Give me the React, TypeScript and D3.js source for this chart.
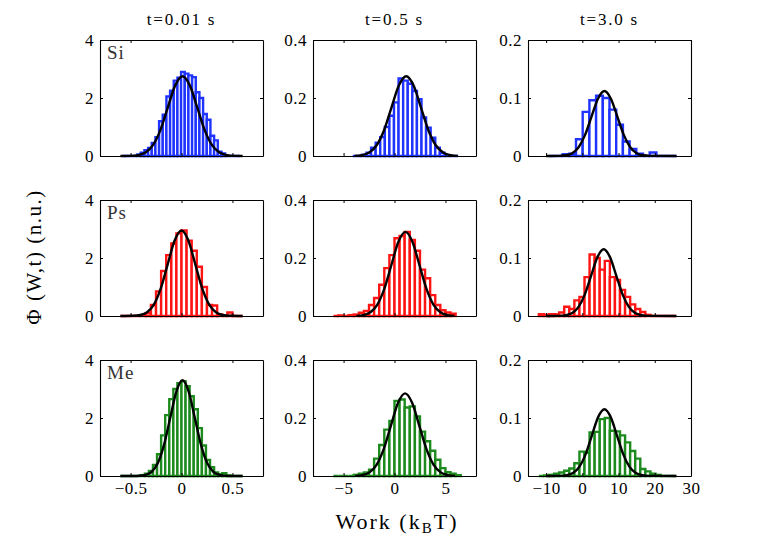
import { useEffect, useRef } from "react";
import * as d3 from "d3";

// Column titles (time), row labels (material)
const columnTitles = ["t=0.01 s", "t=0.5 s", "t=3.0 s"];
const materials = ["Si", "Ps", "Me"];

// Axis settings per column
const xDomains: [number, number][] = [[-0.8, 0.8], [-8, 8], [-15, 30]];
const yDomains: [number, number][] = [[0, 4], [0, 0.4], [0, 0.2]];
const xTicks = [[-0.5, 0, 0.5], [-5, 0, 5], [-10, 0, 10, 20, 30]];
const yTicks = [[0, 2, 4], [0, 0.2, 0.4], [0, 0.1, 0.2]];

// Histogram bins: [first edge, bin width] per column
const siBins = [[-0.58, 0.036], [-4.1, 0.45], [-9.15, 1.85]];
const psBins = [[-0.6, 0.05], [-6, 0.5], [-12, 1.4]];
const meBins = [[-0.6, 0.04], [-6, 0.5], [-12, 1.4]];

// Histogram heights
const siHeights = [
    [0, 0, 0, 0, 0.05, 0.11, 0.2, 0.28, 0.45, 0.65, 1.2, 1.42, 2.05, 2.25, 2.6, 2.7, 2.9, 2.84, 2.78, 2.72, 2.2, 2.0, 1.45, 1.25, 0.7, 0.54, 0.15, 0.09, 0, 0, 0, 0],
    [0, 0, 0.004, 0.011, 0.029, 0.046, 0.065, 0.1, 0.139, 0.185, 0.267, 0.26, 0.249, 0.224, 0.196, 0.133, 0.098, 0.063, 0.029, 0.011, 0, 0, 0],
    [0, 0, 0.003, 0.004, 0.029, 0.076, 0.096, 0.104, 0.1, 0.08, 0.054, 0.025, 0.012, 0.004, 0, 0.006, 0, 0, 0],
];
const psHeights = [
    [0, 0, 0, 0, 0.02, 0.1, 0.38, 0.85, 1.55, 2.1, 2.5, 2.85, 2.95, 2.6, 2.25, 1.7, 1.0, 0.38, 0.36, 0.05, 0, 0.12, 0, 0],
    [0, 0.002, 0, 0.003, 0.005, 0.011, 0.017, 0.038, 0.062, 0.108, 0.165, 0.21, 0.268, 0.276, 0.29, 0.262, 0.225, 0.16, 0.13, 0.072, 0.038, 0.02, 0.012, 0.008],
    [0.003, 0.002, 0.003, 0.003, 0.006, 0.016, 0.012, 0.027, 0.033, 0.067, 0.106, 0.1, 0.08, 0.095, 0.067, 0.062, 0.045, 0.033, 0.02, 0.012, 0.007, 0.002, 0, 0, 0, 0, 0],
];
const meHeights = [
    [0, 0, 0, 0, 0, 0.03, 0.08, 0.17, 0.38, 0.75, 1.4, 2.1, 2.65, 3.0, 3.2, 3.27, 3.1, 2.75, 2.3, 1.65, 1.05, 0.55, 0.3, 0.12, 0.06, 0.1, 0.02, 0, 0, 0],
    [0, 0, 0, 0, 0.004, 0.008, 0.012, 0.022, 0.06, 0.107, 0.16, 0.19, 0.259, 0.264, 0.236, 0.24, 0.205, 0.153, 0.12, 0.087, 0.056, 0.027, 0.013, 0.008, 0.003],
    [0, 0.001, 0.002, 0.004, 0.006, 0.009, 0.013, 0.022, 0.042, 0.04, 0.075, 0.076, 0.098, 0.1, 0.078, 0.077, 0.07, 0.058, 0.043, 0.03, 0.012, 0.008, 0.004, 0.002, 0, 0, 0],
];

// Fitted curves, [work, density]
const siFit = [
    [[-0.6, 0], [-0.4975, 0.006], [-0.425, 0.031], [-0.3525, 0.121], [-0.28, 0.372], [-0.2075, 0.893], [-0.135, 1.668], [-0.0625, 2.427], [0.01, 2.75], [0.0825, 2.427], [0.155, 1.668], [0.2275, 0.893], [0.3, 0.372], [0.3725, 0.121], [0.445, 0.031], [0.5175, 0.006], [0.6, 0]],
    [[-3.925, 0.0006], [-3.2, 0.003], [-2.475, 0.012], [-1.75, 0.037], [-1.025, 0.089], [-0.3, 0.167], [0.425, 0.243], [1.15, 0.275], [1.875, 0.243], [2.6, 0.167], [3.325, 0.089], [4.05, 0.037], [4.775, 0.012], [5.5, 0.003], [6.225, 0.0006]],
    [[-10, 0], [-6.36, 0.0003], [-4.58, 0.0012], [-2.8, 0.0049], [-1.02, 0.0152], [0.76, 0.0364], [2.54, 0.0679], [4.32, 0.0988], [6.1, 0.112], [7.88, 0.0988], [9.66, 0.0679], [11.44, 0.0364], [13.22, 0.0152], [15, 0.0049], [16.78, 0.0012], [18.56, 0.0003], [26, 0]],
];
const psFit = [
    [[-0.6, 0], [-0.4725, 0.0065], [-0.405, 0.033], [-0.3375, 0.13], [-0.27, 0.399], [-0.2025, 0.958], [-0.135, 1.789], [-0.0675, 2.603], [0, 2.95], [0.0675, 2.603], [0.135, 1.789], [0.2025, 0.958], [0.27, 0.399], [0.3375, 0.13], [0.405, 0.033], [0.4725, 0.0065], [0.6, 0]],
    [[-3.74, 0.0006], [-3.055, 0.0032], [-2.368, 0.0127], [-1.68, 0.0392], [-0.993, 0.0942], [-0.305, 0.1759], [0.383, 0.2559], [1.07, 0.29], [1.758, 0.2559], [2.445, 0.1759], [3.133, 0.0942], [3.82, 0.0392], [4.508, 0.0127], [5.195, 0.0032], [5.883, 0.0006]],
    [[-10, 0], [-6.245, 0.0003], [-4.51, 0.0013], [-2.775, 0.005], [-1.04, 0.0156], [0.695, 0.0373], [2.43, 0.0697], [4.165, 0.1015], [5.9, 0.115], [7.635, 0.1015], [9.37, 0.0697], [11.105, 0.0373], [12.84, 0.0156], [14.575, 0.005], [16.31, 0.0013], [18.045, 0.0003], [26, 0]],
];
const meFit = [
    [[-0.6, 0], [-0.474, 0.001], [-0.4135, 0.0073], [-0.353, 0.0366], [-0.2925, 0.1449], [-0.232, 0.4465], [-0.1715, 1.0715], [-0.111, 2.001], [-0.0505, 2.912], [0.01, 3.3], [0.0705, 2.912], [0.131, 2.001], [0.1915, 1.0715], [0.252, 0.4465], [0.3125, 0.1449], [0.373, 0.0366], [0.4335, 0.0073], [0.494, 0.001], [0.6, 0]],
    [[-3.86, 0.0006], [-3.16, 0.0032], [-2.46, 0.0125], [-1.76, 0.0386], [-1.06, 0.0925], [-0.36, 0.1729], [0.34, 0.2515], [1.04, 0.285], [1.74, 0.2515], [2.44, 0.1729], [3.14, 0.0925], [3.84, 0.0386], [4.54, 0.0125], [5.24, 0.0032], [5.94, 0.0006]],
    [[-10, 0], [-6.045, 0.0003], [-4.31, 0.0013], [-2.575, 0.005], [-0.84, 0.0156], [0.895, 0.0373], [2.63, 0.0697], [4.365, 0.1015], [6.1, 0.115], [7.835, 0.1015], [9.57, 0.0697], [11.305, 0.0373], [13.04, 0.0156], [14.775, 0.005], [16.51, 0.0013], [18.245, 0.0003], [26, 0]],
];

const bins = [siBins, psBins, meBins];
const heights = [siHeights, psHeights, meHeights];
const fits = [siFit, psFit, meFit];
const barColors = ["#1f33ff", "#ff1414", "#1c8a1c"];

export default function App() {
    const svgRef = useRef<SVGSVGElement>(null);

    useEffect(() => {
        if (!svgRef.current) return;

        const width = 763;
        const height = 536;
        const font = "Liberation Serif";
        const colLeft = [100, 313, 528];
        const rowTop = [40, 200, 360];
        const pw = 163;
        const ph = 116;
        const fmt = d3.format("~g");

        d3.select(svgRef.current).selectAll("*").remove();

        const svg = d3
            .select(svgRef.current)
            .attr("width", width)
            .attr("height", height)
            .attr("font-family", font);

        svg.append("rect").attr("width", width).attr("height", height).attr("fill", "#fff");

        // column titles
        columnTitles.forEach((t, c) => {
            svg
                .append("text")
                .attr("x", colLeft[c] + pw / 2)
                .attr("y", 25)
                .attr("text-anchor", "middle")
                .attr("font-family", font)
                .attr("font-size", 17)
                .attr("letter-spacing", 1.8)
                .text(t);
        });

        materials.forEach((mat, r) => {
            columnTitles.forEach((_, c) => {
                const left = colLeft[c];
                const top = rowTop[r];

                const x = d3.scaleLinear().domain(xDomains[c]).range([left, left + pw]);
                const y = d3.scaleLinear().domain(yDomains[c]).range([top + ph, top]);

                const g = svg.append("g");

                // histogram bars (white face, coloured edge)
                const [start, w] = bins[r][c];
                g.selectAll("path.bar")
                    .data(heights[r][c])
                    .join("path")
                    .attr("class", "bar")
                    .attr("d", (h, i) => {
                        const x0 = x(start + i * w);
                        const x1 = x(start + (i + 1) * w);
                        const yb = y(0);
                        const yt = y(h);
                        return `M${x0},${yb}V${yt}H${x1}V${yb}Z`;
                    })
                    .attr("fill", "#fff")
                    .attr("stroke", barColors[r])
                    .attr("stroke-width", 2.4);

                // fitted curve
                const line = d3
                    .line<number[]>()
                    .x((d) => x(d[0]))
                    .y((d) => y(d[1]))
                    .curve(d3.curveMonotoneX);

                g.append("path")
                    .datum(fits[r][c])
                    .attr("fill", "none")
                    .attr("stroke", "#000")
                    .attr("stroke-width", 2.4)
                    .attr("d", line);

                // axes on all four sides, ticks pointing inward
                const showX = r === materials.length - 1;
                const axes = [
                    { a: d3.axisLeft(y).tickValues(yTicks[c]).tickFormat((v) => fmt(v as number)), t: `translate(${left},0)` },
                    { a: d3.axisRight(y).tickValues(yTicks[c]).tickFormat(() => ""), t: `translate(${left + pw},0)` },
                    { a: d3.axisBottom(x).tickValues(xTicks[c]).tickFormat((v) => (showX ? fmt(v as number) : "")), t: `translate(0,${top + ph})` },
                    { a: d3.axisTop(x).tickValues(xTicks[c]).tickFormat(() => ""), t: `translate(0,${top})` },
                ];
                axes.forEach(({ a, t }) => {
                    const ax = g
                        .append("g")
                        .attr("transform", t)
                        .call(a.tickSizeInner(-3).tickSizeOuter(0).tickPadding(6));
                    ax.attr("font-family", font);
                    ax.select(".domain").attr("stroke", "#000").attr("stroke-width", 1.1);
                    ax.selectAll(".tick line").attr("stroke", "#000");
                    ax.selectAll(".tick text")
                        .attr("fill", "#000")
                        .attr("font-size", 17)
                        .attr("font-family", font)
                        .attr("letter-spacing", 0.5);
                });

                // material label
                if (c === 0) {
                    g.append("text")
                        .attr("x", left + 7)
                        .attr("y", top + 19)
                        .attr("font-family", font)
                        .attr("font-size", 19)
                        .attr("fill", "#333")
                        .attr("letter-spacing", 1)
                        .text(mat);
                }
            });
        });

        // axis titles
        const xl = svg
            .append("text")
            .attr("x", 397)
            .attr("y", 529)
            .attr("text-anchor", "middle")
            .attr("font-family", font)
            .attr("font-size", 22)
            .attr("letter-spacing", 2);
        xl.append("tspan").text("Work (k");
        xl.append("tspan").attr("font-size", 15).attr("dy", 4).text("B");
        xl.append("tspan").attr("dy", -4).text("T)");

        svg
            .append("text")
            .attr("transform", "translate(41,257) rotate(-90)")
            .attr("text-anchor", "middle")
            .attr("font-family", font)
            .attr("font-size", 21)
            .attr("letter-spacing", 1.5)
            .text("Φ (W,t) (n.u.)");
    }, []);

    return <svg ref={svgRef} style={{ position: "absolute", left: 0, top: 0 }} />;
}
